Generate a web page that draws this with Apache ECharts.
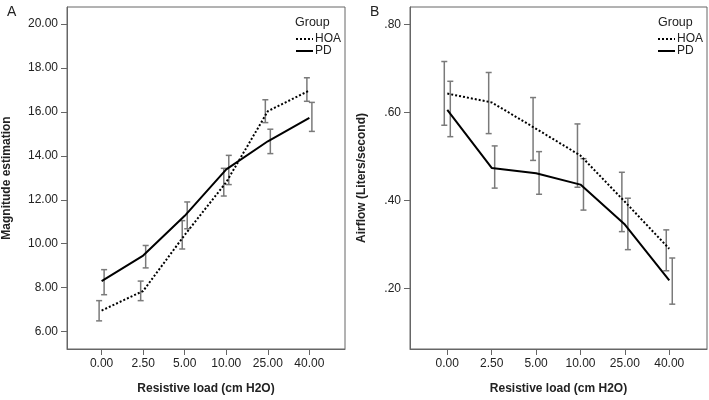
<!DOCTYPE html>
<html><head><meta charset="utf-8">
<script src="https://cdn.jsdelivr.net/npm/echarts@6/dist/echarts.min.js"></script>
<style>html,body{margin:0;padding:0;background:#fff}#c{width:709px;height:400px}</style>
</head><body><div id="c"></div>
<script>
// ---- data ----
const xLabels = ['0.00', '2.50', '5.00', '10.00', '25.00', '40.00'];
const yTicksA = [6, 8, 10, 12, 14, 16, 18, 20];
const yTicksB = [0.2, 0.4, 0.6, 0.8];

// Panel A: Magnitude estimation
const hoaA = [6.96, 7.85, 10.4, 12.8, 16.03, 16.97];
const hoaA_lo = [6.49, 7.41, 9.76, 12.17, 15.51, 16.48];
const hoaA_hi = [7.41, 8.30, 11.05, 13.43, 16.55, 17.55];
const pdA = [8.30, 9.46, 11.27, 13.38, 14.66, 15.73];
const pdA_lo = [7.68, 8.90, 10.68, 12.69, 14.10, 15.11];
const pdA_hi = [8.82, 9.92, 11.90, 14.02, 15.21, 16.43];

// Panel B: Airflow (Liters/second)
const hoaB = [0.643, 0.623, 0.563, 0.502, 0.397, 0.290];
const hoaB_lo = [0.571, 0.552, 0.491, 0.430, 0.329, 0.240];
const hoaB_hi = [0.716, 0.691, 0.634, 0.574, 0.464, 0.333];
const pdB = [0.606, 0.474, 0.462, 0.436, 0.345, 0.218];
const pdB_lo = [0.545, 0.428, 0.414, 0.378, 0.288, 0.164];
const pdB_hi = [0.671, 0.524, 0.511, 0.495, 0.405, 0.269];

// ---- build ----
const idx = xLabels.map((_, i) => i);
const pts = v => v.map((y, i) => [i, y]);
const errs = (lo, hi) => lo.map((l, i) => [i, l, hi[i]]);
const FONT = 'Liberation Sans, Arial, sans-serif';

function errRender(offset) {
  return function (params, api) {
    const x = api.value(0);
    const pLo = api.coord([x, api.value(1)]);
    const pHi = api.coord([x, api.value(2)]);
    const cx = pLo[0] + offset, w = 3;
    const st = { stroke: '#7a7a7a', lineWidth: 1.5 };
    return { type: 'group', children: [
      { type: 'line', shape: { x1: cx, y1: pHi[1], x2: cx, y2: pLo[1] }, style: st },
      { type: 'line', shape: { x1: cx - w, y1: pHi[1], x2: cx + w, y2: pHi[1] }, style: st },
      { type: 'line', shape: { x1: cx - w, y1: pLo[1], x2: cx + w, y2: pLo[1] }, style: st }
    ]};
  };
}

function xAxisCfg(gi, min, max) {
  return {
    type: 'value', gridIndex: gi, min: min, max: max,
    name: 'Resistive load (cm H2O)', nameLocation: 'middle', nameGap: 34,
    nameTextStyle: { fontFamily: FONT, fontSize: 12, fontWeight: 'bold', color: '#222' },
    axisLine: { show: true, onZero: false, lineStyle: { color: '#666', width: 1 } },
    axisTick: { show: true, length: 6, customValues: idx, lineStyle: { color: '#666' } },
    axisLabel: { customValues: idx, formatter: v => xLabels[Math.round(v)], margin: 9,
      fontFamily: FONT, fontSize: 12, color: '#222' },
    splitLine: { show: false }
  };
}
function yAxisCfg(gi, min, max, ticks, name, gap, fmt) {
  return {
    type: 'value', gridIndex: gi, min: min, max: max,
    name: name, nameLocation: 'middle', nameGap: gap,
    nameTextStyle: { fontFamily: FONT, fontSize: 12, fontWeight: 'bold', color: '#222' },
    axisLine: { show: true, onZero: false, lineStyle: { color: '#666', width: 1 } },
    axisTick: { show: true, length: 6, customValues: ticks, lineStyle: { color: '#666' } },
    axisLabel: { customValues: ticks, formatter: fmt, margin: 9,
      fontFamily: FONT, fontSize: 12, color: '#222' },
    splitLine: { show: false }
  };
}

const lineSeries = (name, data, gi, dotted) => ({
  type: 'line', name: name, xAxisIndex: gi, yAxisIndex: gi, data: data,
  symbol: 'none', showSymbol: false, silent: true, animation: false,
  lineStyle: { color: '#000', width: 2, type: dotted ? [2, 2] : 'solid' },
  itemStyle: { color: '#000' }, z: 3
});
const errSeries = (data, gi, off) => ({
  type: 'custom', xAxisIndex: gi, yAxisIndex: gi, data: data,
  encode: { x: 0, y: [1, 2] }, renderItem: errRender(off), silent: true, animation: false, z: 2
});

const legendCfg = (left) => ({
  data: ['HOA', 'PD'], orient: 'vertical', left: left, top: 28,
  itemWidth: 17, itemHeight: 14, itemGap: 0, selectedMode: false,
  itemStyle: { opacity: 0 },
  textStyle: { fontFamily: FONT, fontSize: 12, color: '#222', padding: [0, 0, 0, -3] }
});

const chart = echarts.init(document.getElementById('c'), null, { renderer: 'canvas' });
chart.setOption({
  animation: false,
  backgroundColor: '#fff',
  title: [
    { text: 'A', left: 2, top: 0, textStyle: { fontFamily: FONT, fontSize: 14, fontWeight: 'normal', color: '#222' } },
    { text: 'B', left: 365, top: 0, textStyle: { fontFamily: FONT, fontSize: 14, fontWeight: 'normal', color: '#222' } },
    { text: 'Group', left: 290, top: 11, textStyle: { fontFamily: FONT, fontSize: 12.5, fontWeight: 'normal', color: '#222' } },
    { text: 'Group', left: 653, top: 11, textStyle: { fontFamily: FONT, fontSize: 12.5, fontWeight: 'normal', color: '#222' } }
  ],
  legend: [legendCfg(290), legendCfg(652)],
  grid: [
    { left: 64, top: 7, right: 364, bottom: 44, show: true, borderColor: '#666', borderWidth: 1 },
    { left: 410, top: 7, right: 2, bottom: 42, show: true, borderColor: '#666', borderWidth: 1 }
  ],
  xAxis: [xAxisCfg(0, -0.833, 5.857), xAxisCfg(1, -0.84, 5.85)],
  yAxis: [
    yAxisCfg(0, 5.21, 20.77, yTicksA, 'Magnitude estimation', 54, v => v.toFixed(2)),
    yAxisCfg(1, 0.062, 0.84, yTicksB, 'Airflow (Liters/second)', 42, v => v.toFixed(2).replace(/^0/, ''))
  ],
  series: [
    errSeries(errs(hoaA_lo, hoaA_hi), 0, -2.5),
    errSeries(errs(pdA_lo, pdA_hi), 0, 2.5),
    lineSeries('HOA', pts(hoaA), 0, true),
    lineSeries('PD', pts(pdA), 0, false),
    errSeries(errs(hoaB_lo, hoaB_hi), 1, -3),
    errSeries(errs(pdB_lo, pdB_hi), 1, 3),
    lineSeries('HOA', pts(hoaB), 1, true),
    lineSeries('PD', pts(pdB), 1, false)
  ]
});
</script></body></html>
